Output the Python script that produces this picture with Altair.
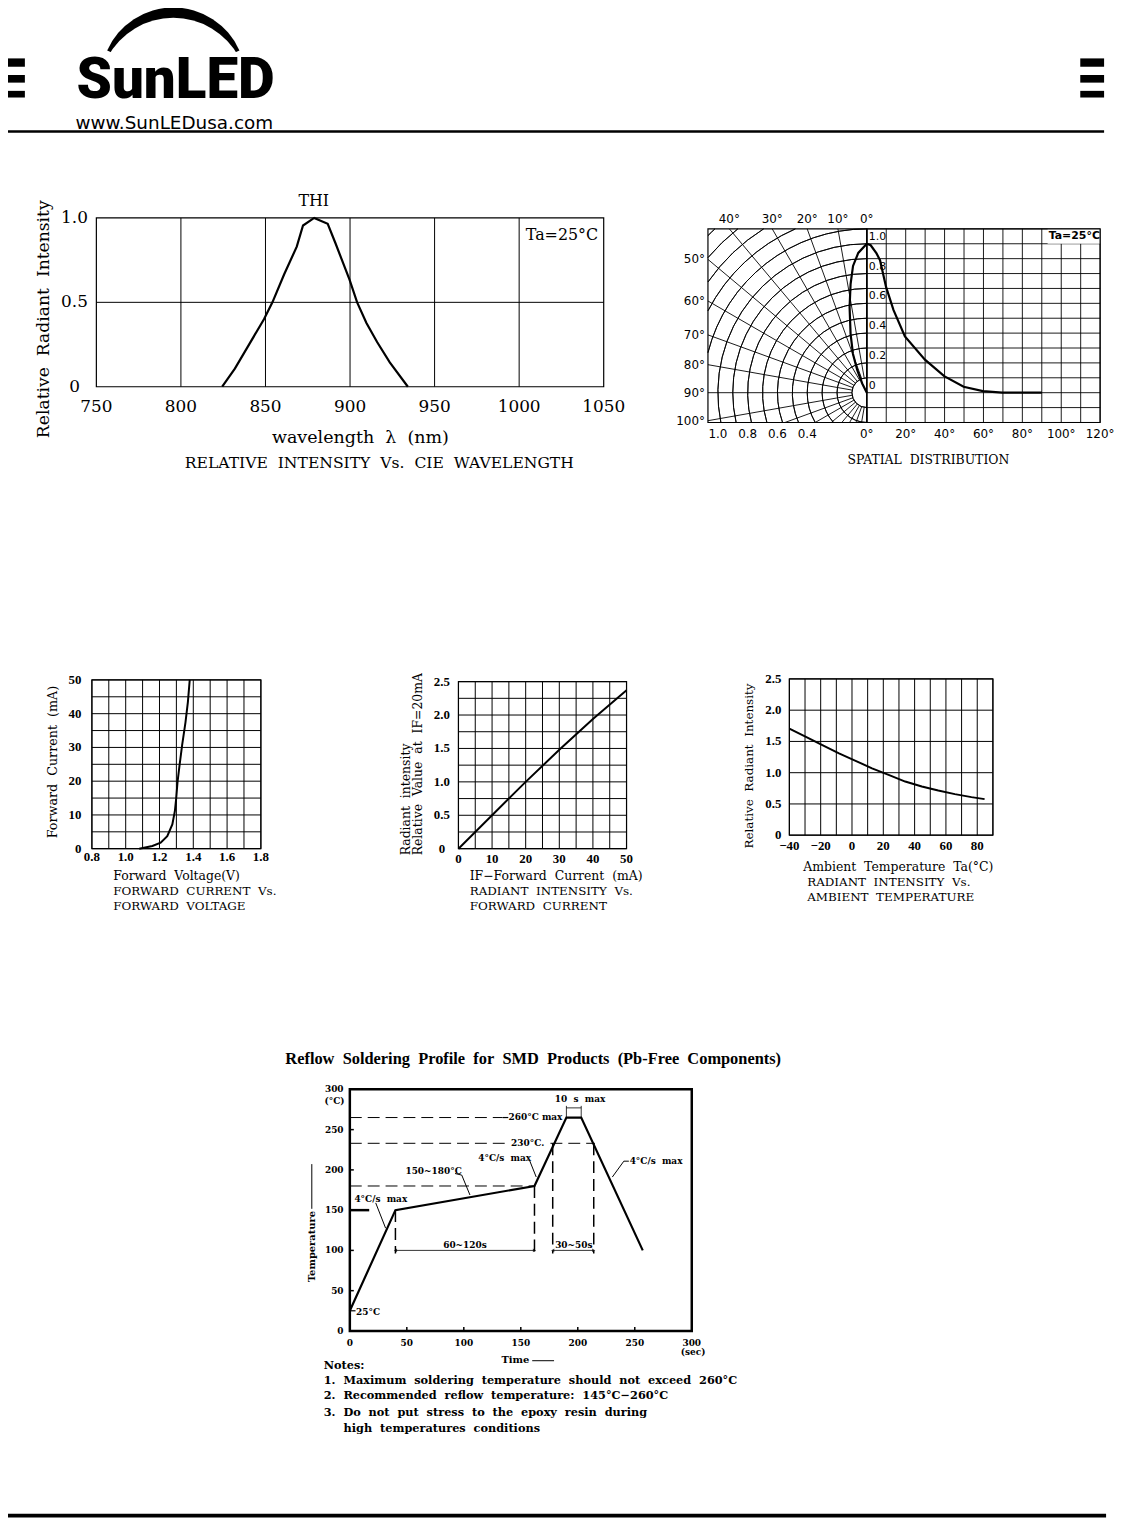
import math
import altair as alt
import pandas as pd

# ---------------- chart values ----------------
# Relative intensity vs wavelength
spec_nm = [824.4, 831.9, 840.0, 849.1, 854.1, 861.0, 868.5, 872.2, 878.8, 886.8, 891.4, 899.7, 904.2, 909.7, 916.0, 923.5, 934.2]
spec_rel = [0.0, 0.107, 0.245, 0.40, 0.50, 0.665, 0.83, 0.955, 1.0, 0.965, 0.85, 0.634, 0.50, 0.378, 0.265, 0.144, 0.0]
spec_x_ticks = [750, 800, 850, 900, 950, 1000, 1050]
spec_grid_x = [800, 850, 900, 950, 1000]
spec_y_ticks = [0, 0.5, 1.0]
spec_y_labels = ["0", "0.5", "1.0"]

# Spatial distribution
pol_deg = [0, 3.5, 6.2, 8.5, 11.4, 15.4, 19.6, 23.0, 26.6, 30.0]
pol_r = [1.0, 0.94, 0.856, 0.737, 0.585, 0.41, 0.278, 0.164, 0.069, 0.0]
sd_deg = [0, 2, 5, 6.8, 9.9, 13.7, 19.6, 29.9, 39.8, 49.8, 59.7, 69.6, 90]
sd_rel = [1.0, 0.99, 0.935, 0.89, 0.71, 0.556, 0.378, 0.222, 0.111, 0.04, 0.011, 0.0, 0.0]
ring_r = [0.1, 0.2, 0.3, 0.4, 0.5, 0.6, 0.7, 0.8, 0.9, 1.0, 1.1, 1.2, 1.3, 1.4, 1.5]
spoke_deg = [0, 10, 20, 30, 40, 50, 60, 70, 80, 90, 100, 110, 120, 130, 140, 150, 160, 170, 180]
pol_top_deg = [40, 30, 20, 10, 0]
pol_left_deg = [50, 60, 70, 80, 90, 100]
pol_r_labels = [1.0, 0.8, 0.6, 0.4]
sd_x_ticks = [0, 20, 40, 60, 80, 100, 120]
sd_grid_x = [0, 10, 20, 30, 40, 50, 60, 70, 80, 90, 100, 110, 120]
sd_grid_y = [-0.2, -0.1, 0.0, 0.1, 0.2, 0.3, 0.4, 0.5, 0.6, 0.7, 0.8, 0.9, 1.0, 1.1]
sd_y_labels = [1.0, 0.8, 0.6, 0.4, 0.2, 0.0]
sd_y_text = ["1.0", "0.8", "0.6", "0.4", "0.2", "0"]

# Forward current vs forward voltage
fv_v = [1.08, 1.158, 1.207, 1.246, 1.276, 1.291, 1.299, 1.307, 1.319, 1.334, 1.354, 1.368, 1.379]
fv_ma = [0.0, 0.8, 1.76, 3.7, 7.2, 11.1, 15.0, 19.9, 24.8, 30.7, 37.5, 43.4, 50.0]
fv_x_ticks = [0.8, 1.0, 1.2, 1.4, 1.6, 1.8]
fv_x_text = ["0.8", "1.0", "1.2", "1.4", "1.6", "1.8"]
fv_y_ticks = [0, 10, 20, 30, 40, 50]
fv_grid_x = [0.8, 0.9, 1.0, 1.1, 1.2, 1.3, 1.4, 1.5, 1.6, 1.7, 1.8]
fv_grid_y = [0, 5, 10, 15, 20, 25, 30, 35, 40, 45, 50]

# Radiant intensity vs forward current
ri_ma = [0, 5, 10, 20, 30, 40, 50]
ri_rel = [0.0, 0.25, 0.5, 1.0, 1.48, 1.94, 2.37]
ri_x_ticks = [0, 10, 20, 30, 40, 50]
ri_y_ticks = [0, 0.5, 1.0, 1.5, 2.0, 2.5]
ri_y_text = ["0", "0.5", "1.0", "1.5", "2.0", "2.5"]
ri_grid_x = [0, 5, 10, 15, 20, 25, 30, 35, 40, 45, 50]
ri_grid_y = [0, 0.25, 0.5, 0.75, 1.0, 1.25, 1.5, 1.75, 2.0, 2.25, 2.5]

# Radiant intensity vs ambient temperature
ta_c = [-40, -29.4, -18.9, -8.3, 2.3, 12.8, 23.4, 34.0, 44.6, 55.1, 65.7, 76.3, 84.7]
ta_rel = [1.705, 1.573, 1.44, 1.308, 1.19, 1.07, 0.964, 0.858, 0.779, 0.715, 0.657, 0.609, 0.577]
ta_x_ticks = [-40, -20, 0, 20, 40, 60, 80]
ta_x_text = ["\u221240", "\u221220", "0", "20", "40", "60", "80"]
ta_grid_x = [-40, -30, -20, -10, 0, 10, 20, 30, 40, 50, 60, 70, 80, 90]
ta_grid_y = [0, 0.5, 1.0, 1.5, 2.0, 2.5]

# Reflow soldering profile
rf_t = [0, 40, 162, 190, 203, 257]
rf_temp = [25, 150, 180, 265, 265, 100]
rf_ticks = [0, 50, 100, 150, 200, 250, 300]
rf_inner_ticks = [50, 100, 150, 200, 250]

OFF = 8.0
W, H = 1117, 1515
SERIF = "DejaVu Serif"
TIMES = "Liberation Serif"
SANS = "DejaVu Sans"


def P(v):
    return v - OFF


def sp(s):
    return s.replace(" ", "\u00a0\u00a0")


def lin(dom, rng):
    return alt.Scale(type="linear", domain=[float(dom[0]), float(dom[1])],
                     range=[P(rng[0]), P(rng[1])], nice=False, zero=False)


def segs(xs, ys, x1, y1, x2, y2, **kw):
    df = pd.DataFrame({"x1": x1, "y1": y1, "x2": x2, "y2": y2})
    st = dict(color="black", strokeWidth=1)
    st.update(kw)
    return alt.Chart(df).mark_rule(**st).encode(
        x=alt.X("x1:Q", scale=xs, axis=None), y=alt.Y("y1:Q", scale=ys, axis=None),
        x2=alt.X2("x2:Q"), y2=alt.Y2("y2:Q"))


def vlines(xs, ys, vals, lo, hi, **kw):
    n = len(vals)
    return segs(xs, ys, vals, [lo] * n, vals, [hi] * n, **kw)


def hlines(xs, ys, vals, lo, hi, **kw):
    n = len(vals)
    return segs(xs, ys, [lo] * n, vals, [hi] * n, vals, **kw)


def frame(xs, ys, x0, x1, y0, y1, **kw):
    df = pd.DataFrame({"a": [x0], "b": [x1], "c": [y0], "d": [y1]})
    st = dict(filled=False, color="black", strokeWidth=1.2)
    st.update(kw)
    return alt.Chart(df).mark_rect(**st).encode(
        x=alt.X("a:Q", scale=xs, axis=None), x2=alt.X2("b:Q"),
        y=alt.Y("c:Q", scale=ys, axis=None), y2=alt.Y2("d:Q"))


def box(xs, ys, x0, x1, y0, y1, **kw):
    df = pd.DataFrame({"a": [x0], "b": [x1], "c": [y0], "d": [y1]})
    st = dict(color="black")
    st.update(kw)
    return alt.Chart(df).mark_rect(**st).encode(
        x=alt.X("a:Q", scale=xs, axis=None), x2=alt.X2("b:Q"),
        y=alt.Y("c:Q", scale=ys, axis=None), y2=alt.Y2("d:Q"))


def curve(xs, ys, xv, yv, **kw):
    df = pd.DataFrame({"x": xv, "y": yv, "i": list(range(len(xv)))})
    st = dict(color="black", strokeWidth=2)
    st.update(kw)
    return alt.Chart(df).mark_line(**st).encode(
        x=alt.X("x:Q", scale=xs, axis=None), y=alt.Y("y:Q", scale=ys, axis=None),
        order="i:Q")


def polyline(xs, ys, pts, **kw):
    df = pd.DataFrame({"x": [p[0] for p in pts], "y": [p[1] for p in pts],
                       "i": list(range(len(pts)))})
    st = dict(color="black", strokeWidth=1)
    st.update(kw)
    return alt.Chart(df).mark_line(**st).encode(
        x=alt.X("x:Q", scale=xs, axis=None), y=alt.Y("y:Q", scale=ys, axis=None),
        order="i:Q")


def tstyle(kw):
    st = dict(color="black", font=SERIF, fontSize=12, align="center", baseline="middle")
    st.update(kw)
    return st


def xtexts(xs, vals, labels, ypix, **kw):
    df = pd.DataFrame({"v": vals, "t": labels})
    return alt.Chart(df).mark_text(**tstyle(kw)).encode(
        x=alt.X("v:Q", scale=xs, axis=None), y=alt.value(P(ypix)), text="t:N")


def ytexts(ys, vals, labels, xpix, **kw):
    df = pd.DataFrame({"v": vals, "t": labels})
    return alt.Chart(df).mark_text(**tstyle(kw)).encode(
        y=alt.Y("v:Q", scale=ys, axis=None), x=alt.value(P(xpix)), text="t:N")


def xytexts(xs, ys, xv, yv, labels, **kw):
    df = pd.DataFrame({"x": xv, "y": yv, "t": labels})
    return alt.Chart(df).mark_text(**tstyle(kw)).encode(
        x=alt.X("x:Q", scale=xs, axis=None), y=alt.Y("y:Q", scale=ys, axis=None), text="t:N")


def note(t, x, y, **kw):
    df = pd.DataFrame({"t": [t]})
    return alt.Chart(df).mark_text(**tstyle(kw)).encode(
        x=alt.value(P(x)), y=alt.value(P(y)), text="t:N")


panels = []

# ---------------- page header / footer / free lines ----------------
pgx = lin([0, 1125], [0, 1125])
pgy = lin([0, 1523], [0, 1523])
bar_rows = [(53.3, 61.7), (70.0, 77.7), (86.0, 92.7)]
bars = pd.DataFrame({
    "x0": [0] * 3 + [1088] * 3, "x1": [25] * 3 + [1112] * 3,
    "y0": [b[0] for b in bar_rows] * 2, "y1": [b[1] for b in bar_rows] * 2})
logo_df = pd.DataFrame({"k": [0]})
A = 1.152
page = [
    alt.Chart(bars).mark_rect(color="black").encode(
        x=alt.X("x0:Q", scale=pgx, axis=None), x2="x1:Q",
        y=alt.Y("y0:Q", scale=pgy, axis=None), y2="y1:Q"),
    alt.Chart(logo_df).mark_arc(color="black", radius=72.9, theta=2 * math.pi - A,
                                theta2=2 * math.pi + A).encode(
        x=alt.value(P(174.5)), y=alt.value(P(74.9))),
    alt.Chart(logo_df).mark_arc(color="white", radius=75.1, theta=2 * math.pi - 1.08,
                                theta2=2 * math.pi + 1.08).encode(
        x=alt.value(P(174.5)), y=alt.value(P(87.5))),
    note("SunLED", 77, 93.5, font="Roboto", fontWeight=900, fontSize=57, align="left",
         baseline="alphabetic"),
    note("www.SunLEDusa.com", 76, 118.5, font=SANS, fontSize=18.5, align="left",
         baseline="middle"),
    hlines(pgx, pgy, [127], 5, 1112, strokeWidth=2.6),
    hlines(pgx, pgy, [1521], 4, 1114, strokeWidth=3.6),
    # arrow lines next to the reflow axis titles
    segs(pgx, pgy, [314], [1167], [314], [1212], strokeWidth=1),
    segs(pgx, pgy, [536], [1365], [558], [1365], strokeWidth=1),
]
panels.append(alt.layer(*page))

# ---------------- relative intensity vs wavelength ----------------
sxs = lin([750, 1050], [97, 608])
sys_ = lin([0, 1], [384, 214])
panels.append(alt.layer(
    vlines(sxs, sys_, spec_grid_x, 0, 1),
    hlines(sxs, sys_, [0.5], 750, 1050),
    frame(sxs, sys_, 750, 1050, 0, 1),
    curve(sxs, sys_, spec_nm, spec_rel, strokeWidth=2.2),
    xtexts(sxs, spec_x_ticks, [str(v) for v in spec_x_ticks], 404, fontSize=17),
    ytexts(sys_, spec_y_ticks, spec_y_labels, 75, fontSize=17),
    note("THI", 316, 197, fontSize=16),
    note("Ta=25\u00b0C", 566, 231, fontSize=16),
    note(sp("Relative Radiant Intensity"), 44, 316, fontSize=17.3, angle=270),
    note(sp("wavelength \u03bb (nm)"), 363, 436, fontSize=17.6),
    note(sp("RELATIVE INTENSITY Vs. CIE WAVELENGTH"), 382, 461, fontSize=15.7),
))

# ---------------- spatial distribution ----------------
CX, CY, UNIT = 873.0, 390.0, 150.0
PL, PT, PB, PR = 713.0, 225.0, 420.0, 1108.0
L = (CX - PL) / UNIT
T = (CY - PT) / UNIT
B = (PB - CY) / UNIT
pxs = lin([-L, 0], [PL, CX])
pys = lin([-B, T], [PB, PT])

arc_rows = []
for r in ring_r:
    a1 = 0.0 if r <= T else math.acos(T / r)
    if r <= L:
        a2 = math.pi if r <= B else math.acos(-B / r)
    else:
        a2 = math.asin(L / r)
    if a2 > a1:
        arc_rows.append({"r": r, "t1": 2 * math.pi - a2, "t2": 2 * math.pi - a1, "cx": 0.0, "cy": 0.0})
arc_df = pd.DataFrame(arc_rows)

sx1, sy1, sx2, sy2 = [], [], [], []
for a in spoke_deg:
    ar = math.radians(a)
    s, c = math.sin(ar), math.cos(ar)
    cands = []
    if c > 1e-9:
        cands.append(T / c)
    if s > 1e-9:
        cands.append(L / s)
    if c < -1e-9:
        cands.append(B / -c)
    t = min(cands)
    sx1.append(-0.1 * s)
    sy1.append(0.1 * c)
    sx2.append(-t * s)
    sy2.append(t * c)

pol_df = pd.DataFrame({"deg": pol_deg, "r": pol_r, "i": list(range(len(pol_deg)))})
top_x = [-T * math.tan(math.radians(a)) for a in pol_top_deg]
left_y = [L * math.cos(math.radians(a)) / math.sin(math.radians(a)) for a in pol_left_deg]

panels.append(alt.layer(
    alt.Chart(arc_df).mark_arc(filled=False, color="black", strokeWidth=0.9).encode(
        x=alt.X("cx:Q", scale=pxs, axis=None), y=alt.Y("cy:Q", scale=pys, axis=None),
        theta=alt.Theta("t1:Q", scale=None), theta2=alt.Theta2("t2:Q"),
        radius=alt.Radius("r:Q", scale=alt.Scale(type="linear", domain=[0, 1], range=[0, UNIT], zero=True)),
        radius2=alt.Radius2("r:Q")),
    segs(pxs, pys, sx1, sy1, sx2, sy2, strokeWidth=0.9),
    frame(pxs, pys, -L, 0, -B, T),
    alt.Chart(pol_df).transform_calculate(
        px="-datum.r*sin(datum.deg*PI/180)", py="datum.r*cos(datum.deg*PI/180)"
    ).mark_line(color="black", strokeWidth=2.2).encode(
        x=alt.X("px:Q", scale=pxs, axis=None), y=alt.Y("py:Q", scale=pys, axis=None),
        order="i:Q"),
    xtexts(pxs, top_x, [f"{a}\u00b0" for a in pol_top_deg], 215, font=SANS, fontSize=12),
    ytexts(pys, left_y, [f"{a}\u00b0" for a in pol_left_deg], 710, font=SANS, fontSize=12,
           align="right"),
    xtexts(pxs, [-v for v in pol_r_labels], [f"{v:.1f}" for v in pol_r_labels], 432,
           font=SANS, fontSize=12),
))

rxs = lin([0, 120], [CX, PR])
rys = lin([-B, T], [PB, PT])
panels.append(alt.layer(
    vlines(rxs, rys, sd_grid_x, -0.2, 1.1, strokeWidth=0.9),
    hlines(rxs, rys, sd_grid_y, 0, 120, strokeWidth=0.9),
    box(rxs, rys, 93, 120, 1.0, 1.1, color="white"),
    frame(rxs, rys, 0, 120, -0.2, 1.1),
    curve(rxs, rys, sd_deg, sd_rel, strokeWidth=2.2),
    xytexts(rxs, rys, [0] * len(sd_y_labels), sd_y_labels, sd_y_text, font=SANS,
            fontSize=11, align="left", dx=2, dy=-7),
    xtexts(rxs, sd_x_ticks, [f"{v}\u00b0" for v in sd_x_ticks], 432, font=SANS, fontSize=12),
    note("Ta=25\u00b0C", 1082, 232, font=SANS, fontSize=11, fontWeight="bold"),
    note(sp("SPATIAL DISTRIBUTION"), 935, 458, fontSize=12.5),
))

# ---------------- forward current vs forward voltage ----------------
axs = lin([0.8, 1.8], [92.5, 262.7])
ays = lin([0, 50], [849.3, 679.3])
panels.append(alt.layer(
    vlines(axs, ays, fv_grid_x, 0, 50),
    hlines(axs, ays, fv_grid_y, 0.8, 1.8),
    frame(axs, ays, 0.8, 1.8, 0, 50),
    curve(axs, ays, fv_v, fv_ma),
    xtexts(axs, fv_x_ticks, fv_x_text, 857.5, font=TIMES, fontSize=13, fontWeight="bold"),
    ytexts(ays, fv_y_ticks, [str(v) for v in fv_y_ticks], 82, font=TIMES, fontSize=13,
           fontWeight="bold", align="right"),
    note(sp("Forward Current (mA)"), 53, 762, fontSize=12.8, angle=270),
    note(sp("Forward Voltage(V)"), 114, 877, fontSize=12.5, align="left"),
    note(sp("FORWARD CURRENT Vs."), 114, 892, fontSize=12, align="left"),
    note(sp("FORWARD VOLTAGE"), 114, 907, fontSize=12, align="left"),
))

# ---------------- radiant intensity vs forward current ----------------
bxs = lin([0, 50], [461.7, 631])
bys = lin([0, 2.5], [849.3, 681])
panels.append(alt.layer(
    vlines(bxs, bys, ri_grid_x, 0, 2.5),
    hlines(bxs, bys, ri_grid_y, 0, 50),
    frame(bxs, bys, 0, 50, 0, 2.5),
    curve(bxs, bys, ri_ma, ri_rel),
    xtexts(bxs, ri_x_ticks, [str(v) for v in ri_x_ticks], 859.5, font=TIMES, fontSize=13,
           fontWeight="bold"),
    ytexts(bys, ri_y_ticks, ri_y_text, 445, font=TIMES, fontSize=13, fontWeight="bold"),
    note(sp("Radiant intensity"), 409, 856, fontSize=12.5, angle=270, align="left"),
    note(sp("Relative Value at IF=20mA"), 421, 856, fontSize=12.5, angle=270, align="left"),
    note(sp("IF\u2212Forward Current (mA)"), 473, 877, fontSize=12.5, align="left"),
    note(sp("RADIANT INTENSITY Vs."), 473, 892, fontSize=12, align="left"),
    note(sp("FORWARD CURRENT"), 473, 907, fontSize=12, align="left"),
))

# ---------------- radiant intensity vs ambient temperature ----------------
cxs = lin([-40, 90], [795, 1000])
cys = lin([0, 2.5], [835.7, 678.3])
panels.append(alt.layer(
    vlines(cxs, cys, ta_grid_x, 0, 2.5),
    hlines(cxs, cys, ta_grid_y, -40, 90),
    frame(cxs, cys, -40, 90, 0, 2.5),
    curve(cxs, cys, ta_c, ta_rel),
    xtexts(cxs, ta_x_ticks, ta_x_text, 847, font=TIMES, fontSize=13, fontWeight="bold"),
    ytexts(cys, ta_grid_y, ri_y_text, 787, font=TIMES, fontSize=13, fontWeight="bold",
           align="right"),
    note(sp("Relative Radiant Intensity"), 754, 766, fontSize=12, angle=270),
    note(sp("Ambient Temperature Ta(\u00b0C)"), 809, 868, fontSize=12.5, align="left"),
    note(sp("RADIANT INTENSITY Vs."), 813, 883, fontSize=12, align="left"),
    note(sp("AMBIENT TEMPERATURE"), 813, 898, fontSize=12, align="left"),
))

# ---------------- reflow soldering profile ----------------
qx = lin([0, 300], [352.3, 696.7])
qy = lin([0, 300], [1335, 1091.7])
BF = dict(font=SERIF, fontWeight="bold", fontSize=9)
dash = [12, 6]
reflow = [
    hlines(qx, qy, [265], 0, 134, strokeDash=dash),
    hlines(qx, qy, [233], 0, 140, strokeDash=dash),
    hlines(qx, qy, [233], 176, 215, strokeDash=dash),
    hlines(qx, qy, [180], 0, 162, strokeDash=dash),
    hlines(qx, qy, [150], 0, 17, strokeWidth=2.5),
    segs(qx, qy, [40, 162, 178, 214], [150, 180, 233, 233], [40, 162, 178, 214],
         [96, 96, 96, 96], strokeDash=dash, strokeWidth=1.5),
    segs(qx, qy, [40, 178], [100, 100], [162, 214], [100, 100], strokeWidth=0.8),
    segs(qx, qy, [190, 203, 190], [265, 265, 277], [190, 203, 203], [279.5, 279.5, 277],
         strokeWidth=0.8),
    alt.Chart(pd.DataFrame({"x": [40, 178], "y": [100, 100]})).mark_point(
        shape="triangle-left", filled=True, size=14, color="black", dx=3).encode(
        x=alt.X("x:Q", scale=qx, axis=None), y=alt.Y("y:Q", scale=qy, axis=None)),
    alt.Chart(pd.DataFrame({"x": [162, 214], "y": [100, 100]})).mark_point(
        shape="triangle-right", filled=True, size=14, color="black", dx=-3).encode(
        x=alt.X("x:Q", scale=qx, axis=None), y=alt.Y("y:Q", scale=qy, axis=None)),
    vlines(qx, qy, rf_inner_ticks, 0, 5, strokeWidth=1.5),
    hlines(qx, qy, rf_inner_ticks, 0, 3.5, strokeWidth=1.5),
    polyline(qx, qy, [(22.7, 159), (31.4, 127.6)]),
    polyline(qx, qy, [(92.3, 195.5), (98.2, 193.5), (105.4, 168.8)]),
    polyline(qx, qy, [(157.7, 211.8), (163.5, 191.2)]),
    polyline(qx, qy, [(244.8, 210.8), (240.4, 210.8), (230.3, 191.1)]),
    polyline(qx, qy, [(0, 25), (5, 25)], strokeWidth=1.2),
    polyline(qx, qy, [(134, 265), (139, 265)], strokeWidth=1.2),
    frame(qx, qy, 0, 300, 0, 300, strokeWidth=2.5),
    curve(qx, qy, rf_t, rf_temp, strokeWidth=2.2),
    xytexts(qx, qy, [4, 48.8, 112.7, 245.5],
            [164.4, 198, 214.6, 210.8],
            [sp("4\u00b0C/s max"), "150~180\u00b0C", sp("4\u00b0C/s max"), sp("4\u00b0C/s max")],
            align="left", **BF),
    xytexts(qx, qy, [139.3, 141.5, 5.5], [266, 233, 23.4],
            ["260\u00b0C\u00a0max", "230\u00b0C.", "25\u00b0C"], align="left", **BF),
    xytexts(qx, qy, [101, 196.5, 202], [107, 107, 287.5],
            ["60~120s", "30~50s", sp("10 s max")], **BF),
    xtexts(qx, rf_ticks, [str(v) for v in rf_ticks], 1347, **BF),
    ytexts(qy, rf_ticks, [str(v) for v in rf_ticks], 346, align="right", **BF),
    note("(\u00b0C)", 347, 1103, align="right", **BF),
    note("(sec)", 698, 1356, **BF),
    note("Temperature", 314, 1250, angle=270, font=SERIF, fontWeight="bold", fontSize=10),
    note("Time", 505, 1364, align="left", font=SERIF, fontWeight="bold", fontSize=10),
    note(sp("Reflow Soldering Profile for SMD Products (Pb-Free Components)"), 537, 1061,
         font=TIMES, fontWeight="bold", fontSize=16.5),
]
NF = dict(font=SERIF, fontWeight="bold", fontSize=11.4, align="left")
reflow += [
    note("Notes:", 326, 1370, **NF),
    note(sp("1. Maximum soldering temperature should not exceed 260\u00b0C"), 326, 1385, **NF),
    note(sp("2. Recommended reflow temperature: 145\u00b0C\u2212260\u00b0C"), 326, 1401, **NF),
    note(sp("3. Do not put stress to the epoxy resin during"), 326, 1418, **NF),
    note(sp("high temperatures conditions"), 346, 1434, **NF),
]
panels.append(alt.layer(*reflow))

chart = alt.layer(*panels).resolve_scale(
    x="independent", y="independent"
).properties(
    width=W, height=H, padding=0, autosize=alt.AutoSizeParams(type="none"), background="white"
).configure_view(stroke=None)

chart.save("out.html", embed_options={"renderer": "svg", "actions": False})
